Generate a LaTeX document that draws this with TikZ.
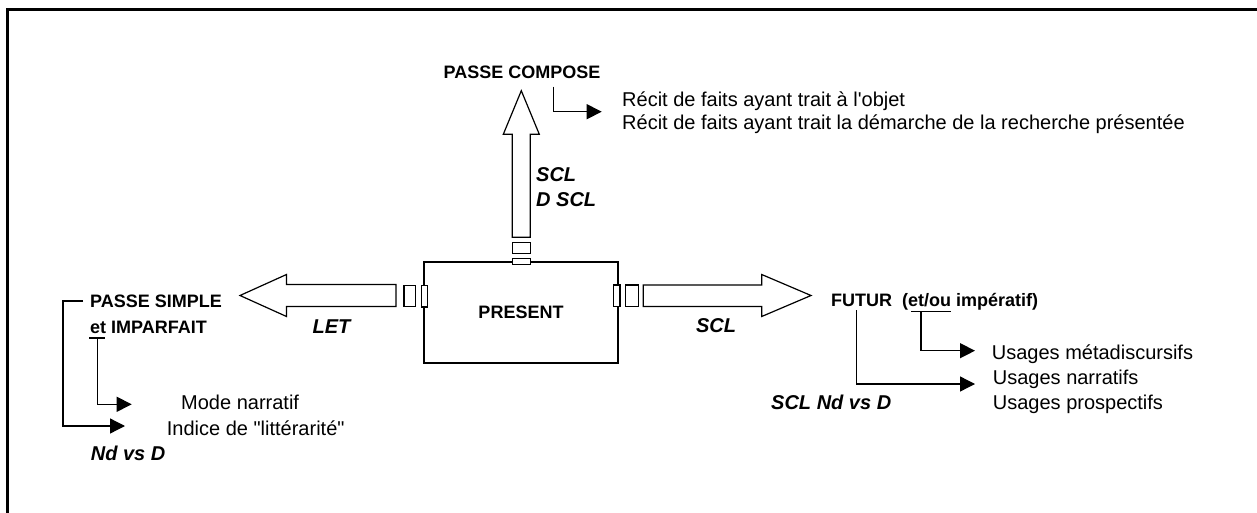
\documentclass[tikz,border=0pt]{standalone}
\usepackage{fontspec}
\setmainfont{Liberation Sans}[Ligatures=TeXOff]
\usetikzlibrary{arrows.meta}
\begin{document}
\begin{tikzpicture}[x=1pt,y=-1pt,
  reg/.style={inner sep=0pt,font=\fontsize{20}{24}\selectfont},
  bld/.style={inner sep=0pt,font=\fontsize{18}{22}\selectfont\bfseries},
  bit/.style={inner sep=0pt,font=\fontsize{20}{24}\selectfont\bfseries\itshape},
  conn/.style={line width=1.3pt,-{Triangle[length=15pt,width=15pt]}},
  plain/.style={line width=1.3pt},
  blk/.style={line width=1.2pt,fill=white,line join=miter},
  boxst/.style={draw,line width=2.3pt,minimum width=193.4pt,minimum height=101pt,inner sep=0pt,font=\fontsize{18}{22}\selectfont\bfseries},
]
\useasboundingbox (0,0) rectangle (1257,513);
% frame
\draw[line width=3pt] (1257,10) -- (7.7,10) -- (7.7,513);

% central box
\node[boxst] (present) at (521,312.8) {PRESENT};

% up block arrow
\draw[blk] (512.3,237.3) -- (512.3,134.3) -- (503.3,134.3) -- (521.3,90.7) -- (539.3,134.3) -- (530.3,134.3) -- (530.3,237.3) -- cycle;
\draw[blk] (512.3,242.7) rectangle (530.3,253.3);
\draw[blk] (512.3,258.7) rectangle (530.3,264.3);

% right block arrow
\draw[blk] (643.3,285) -- (761.7,285) -- (761.7,274.5) -- (811,295.5) -- (761.7,316.5) -- (761.7,306.5) -- (643.3,306.5) -- cycle;
\draw[blk] (625.7,285) rectangle (638.3,306.7);
\draw[blk] (613.3,285) rectangle (620,306.7);

% left block arrow
\draw[blk] (396,284.5) -- (286.5,284.5) -- (286.5,274.5) -- (240,295.5) -- (286.5,316.5) -- (286.5,306.5) -- (396,306.5) -- cycle;
\draw[blk] (404,285.5) rectangle (415.3,306.7);
\draw[blk] (421.7,285.5) rectangle (427.7,307);

% top labels
\node[bld,anchor=base] (pc) at (522,79) {PASSE COMPOSE};
\node[bit,anchor=base west] (scl1) at (536,181.7) {SCL};
\node[bit,anchor=base west] (dscl) at (536,206.7) {D SCL};
\node[reg,anchor=base west] (r1) at (622,107) {Récit de faits ayant trait à l'objet};
\node[reg,anchor=base west] (r2) at (622,130) {Récit de faits ayant trait la démarche de la recherche présentée};
\coordinate (pcA) at (553.3,86.7);
\coordinate (pcB) at (601.7,111.7);
\draw[conn] (pcA) |- (pcB);

% left labels
\node[bld,anchor=base west] (ps) at (90,307) {PASSE SIMPLE};
\node[bld,anchor=base west] (imp) at (90,333) {et IMPARFAIT};
\node[bit,anchor=base] (let) at (331.5,333) {LET};
\node[reg,anchor=base west] (mode) at (181,409) {Mode narratif};
\node[reg,anchor=base west] (ind) at (166.7,435) {Indice de "littérarité"};
\node[bit,anchor=base west] (ndl) at (90.7,460.7) {Nd vs D};
\coordinate (etL) at (89,338);
\coordinate (etR) at (105,338);
\coordinate (etM) at (97.7,338);
\draw[plain] (etL) -- (etR);
\coordinate (psA) at (83,301);
\coordinate (psB) at (63,301);
\coordinate (psC) at (125,426);
\draw[conn] (psA) -- (psB) |- (psC);
\coordinate (etB) at (131.7,404.3);
\draw[conn] (etM) |- (etB);

% right labels
\node[bit,anchor=base] (sclr) at (716,332.7) {SCL};
\node[bld,anchor=base west] (fut) at (831,306.7) {FUTUR\ \ (et/ou impératif)};
\node[reg,anchor=base west] (u1) at (991.7,359) {Usages métadiscursifs};
\node[reg,anchor=base west] (u2) at (992.7,384) {Usages narratifs};
\node[reg,anchor=base west] (u3) at (992.7,409) {Usages prospectifs};
\node[bit,anchor=base west] (ndr) at (771,409) {SCL Nd vs D};
\coordinate (ouL) at (911,311.7);
\coordinate (ouR) at (951,311.7);
\coordinate (ouM) at (921,311.7);
\draw[plain] (ouL) -- (ouR);
\coordinate (ouB) at (975,350.7);
\draw[conn] (ouM) |- (ouB);
\coordinate (fuA) at (856.7,310);
\coordinate (fuB) at (975,384);
\draw[conn] (fuA) |- (fuB);
\end{tikzpicture}
\end{document}
